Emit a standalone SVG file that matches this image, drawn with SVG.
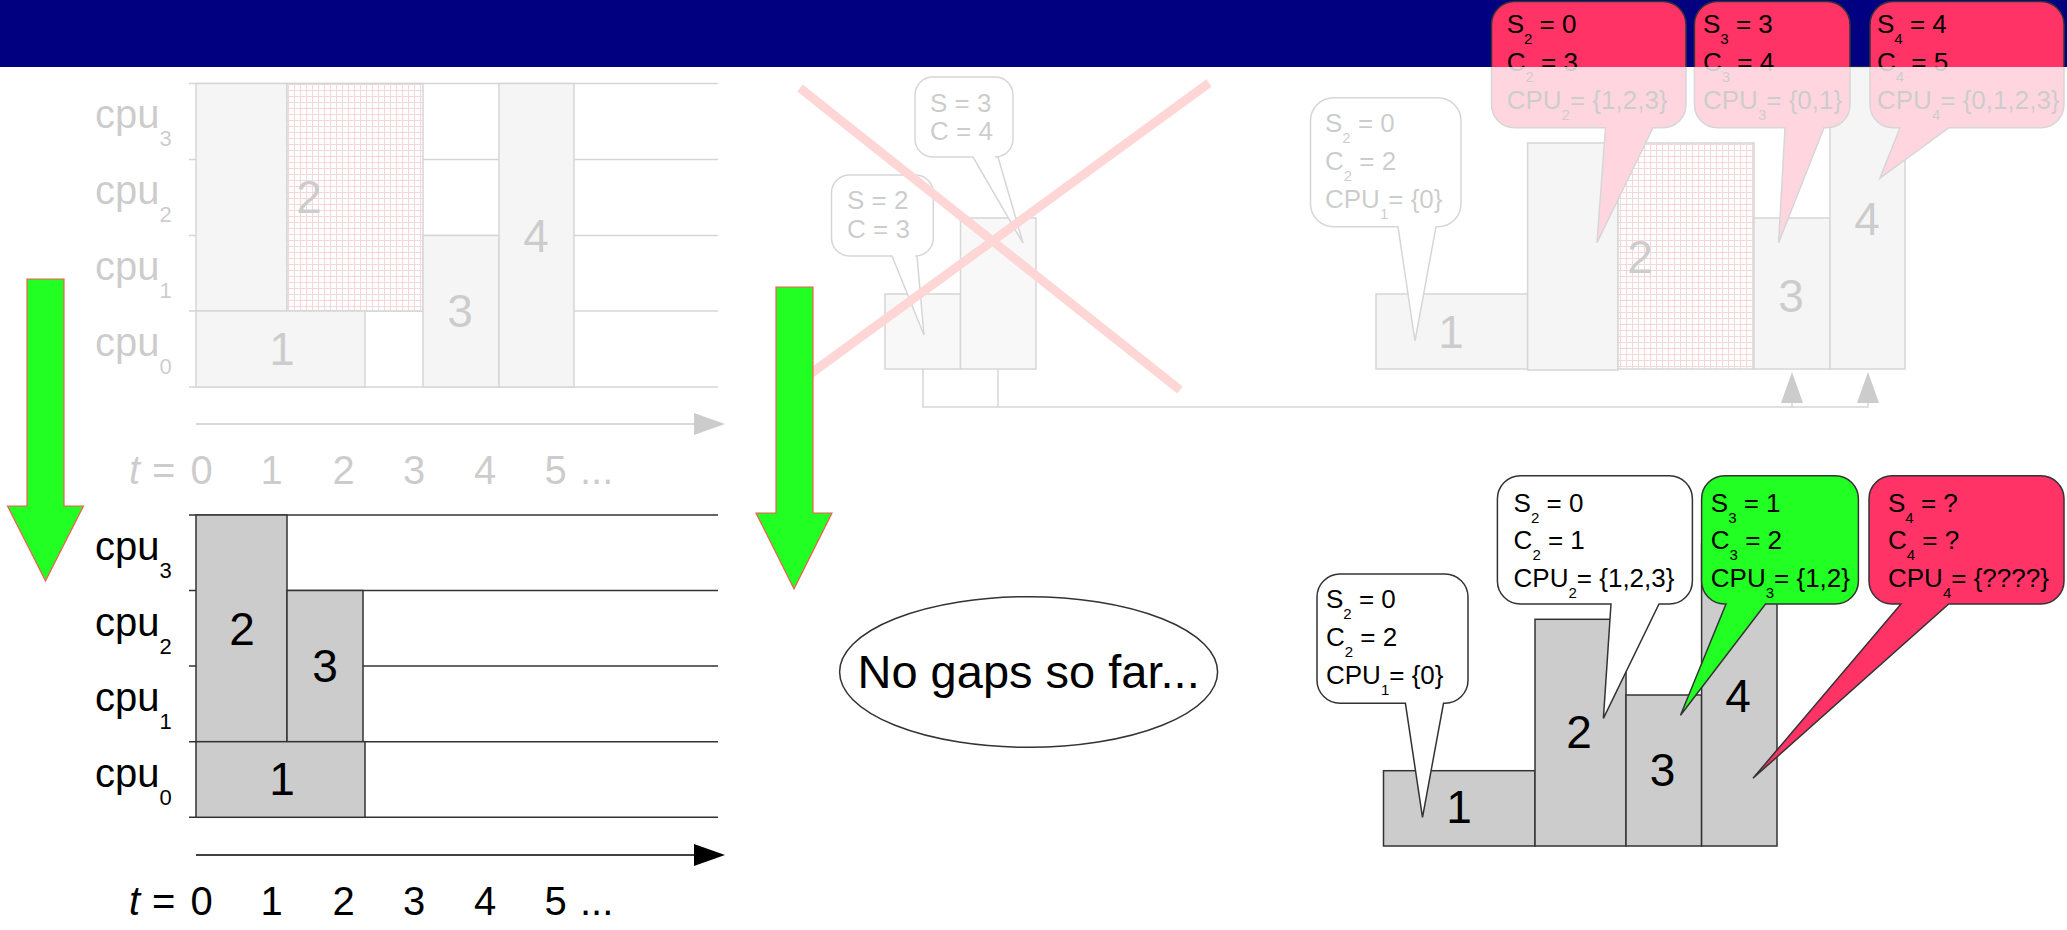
<svg xmlns="http://www.w3.org/2000/svg" width="2067" height="930" viewBox="0 0 2067 930">
<defs>
<style>
text{font-family:"Liberation Sans",Arial,sans-serif;fill:#000}
.cpu{font-size:40px}
.csub{font-size:22px}
.num{font-size:46px;text-anchor:middle}
.bt{font-size:26px}
.sub{font-size:15px}
.tr{font-size:40px}
.grid{stroke:#333;stroke-width:1.5;fill:none}
.bar{fill:#cccccc;stroke:#333;stroke-width:1.5}
.lbar{fill:#dddddd;stroke:#333;stroke-width:1.5}
.bub{fill:#fff;stroke:#333;stroke-width:1.5}
.red{fill:#ff3366;stroke:#333;stroke-width:1.5}
.grn{fill:#22ff22;stroke:#333;stroke-width:1.5}
.garrow{fill:#22ff22;stroke:#ff5555;stroke-width:1.2}
.conn{stroke:#333;stroke-width:1.5;fill:none}
.x{stroke:#ff3333;stroke-width:9;stroke-linecap:butt}
</style>
<pattern id="hatch" width="6" height="6" patternUnits="userSpaceOnUse">
<rect width="6" height="6" fill="#fff"/>
<path d="M0,0.5H6M0.5,0V6" stroke="#cc3344" stroke-width="1"/>
</pattern>
</defs>
<rect width="2067" height="930" fill="#fff"/>
<g id="band"><rect x="0" y="0" width="2067" height="67" fill="#000080"/></g>

<!-- faded upper-left chart -->
<g id="chart-before">
<path class="grid" d="M189,83.5H718M189,159.5H718M189,235.5H718M189,311H718M189,387H718"/>
<rect class="bar" x="196" y="83.5" width="91" height="227.5"/>
<rect x="287" y="83.5" width="136" height="227.5" fill="url(#hatch)" stroke="#333" stroke-width="1.5"/>
<rect class="bar" x="196" y="311" width="169" height="76"/>
<rect class="bar" x="423" y="235.5" width="76" height="151.5"/>
<rect class="bar" x="499" y="83.5" width="75" height="303.5"/>
<text class="num" x="282" y="365">1</text>
<text class="num" x="309" y="213">2</text>
<text class="num" x="460" y="327">3</text>
<text class="num" x="536" y="252">4</text>
<text class="cpu" x="95" y="128">cpu<tspan class="csub" dy="18">3</tspan></text>
<text class="cpu" x="95" y="204">cpu<tspan class="csub" dy="18">2</tspan></text>
<text class="cpu" x="95" y="280">cpu<tspan class="csub" dy="18">1</tspan></text>
<text class="cpu" x="95" y="356">cpu<tspan class="csub" dy="18">0</tspan></text>
<line x1="196" y1="424" x2="695" y2="424" stroke="#000" stroke-width="1.5"/>
<polygon points="694,413 725,424 694,435" fill="#000"/>
<text class="tr" y="484"><tspan x="129" font-style="italic">t</tspan><tspan x="152">=</tspan></text>
<text class="tr" y="484" text-anchor="middle"><tspan x="201.5">0</tspan><tspan x="271.5">1</tspan><tspan x="343.5">2</tspan><tspan x="414">3</tspan><tspan x="485">4</tspan><tspan x="555.5">5</tspan></text>
<text class="tr" x="580" y="484">...</text>
</g>

<!-- faded middle (crossed out) -->
<g id="crossed-out">
<rect class="lbar" x="885" y="294" width="75.5" height="75"/>
<rect class="lbar" x="960.5" y="218" width="75.5" height="151"/>
<path class="bub" d="M933,77H995A18,18 0 0 1 1013,95V139A18,18 0 0 1 995,157H998L1023,243L973,157H933A18,18 0 0 1 915,139V95A18,18 0 0 1 933,77Z"/>
<text class="bt" x="930" y="112">S = 3</text>
<text class="bt" x="930" y="140">C = 4</text>
<path class="bub" d="M849.5,175H915.3A18,18 0 0 1 933.3,193V238A18,18 0 0 1 915.3,256H917L924,335L892,256H849.5A18,18 0 0 1 831.5,238V193A18,18 0 0 1 849.5,175Z"/>
<text class="bt" x="847" y="209">S = 2</text>
<text class="bt" x="847" y="238">C = 3</text>
<line class="x" x1="800" y1="88" x2="1180" y2="390"/>
<line class="x" x1="1209" y1="83" x2="795" y2="385"/>
</g>

<!-- faded upper-right chart -->
<g id="chart-right-before">
<rect class="bar" x="1376" y="294" width="151.6" height="75"/>
<rect class="bar" x="1527.6" y="143" width="90.4" height="227"/>
<rect x="1618" y="143" width="136" height="226" fill="url(#hatch)" stroke="#333" stroke-width="1.5"/>
<rect class="bar" x="1754" y="218" width="76" height="151"/>
<rect class="bar" x="1830" y="67" width="75" height="302"/>
<text class="num" x="1451" y="348">1</text>
<text class="num" x="1640" y="273">2</text>
<text class="num" x="1791" y="312">3</text>
<text class="num" x="1867" y="235">4</text>
</g>
<g id="bubble-faded-1">
<path class="bub" d="M1333.5,97.7H1438A23,23 0 0 1 1461,120.7V203.7A23,23 0 0 1 1438,226.7H1436L1415,341L1398,226.7H1333.5A23,23 0 0 1 1310.5,203.7V120.7A23,23 0 0 1 1333.5,97.7Z"/>
<text class="bt" x="1325" y="131.7">S<tspan class="sub" dy="11">2</tspan><tspan dy="-11"> = 0</tspan></text>
<text class="bt" x="1325" y="170">C<tspan class="sub" dy="11">2</tspan><tspan dy="-11"> = 2</tspan></text>
<text class="bt" x="1325" y="208">CPU<tspan class="sub" dy="11">1</tspan><tspan dy="-11">= {0}</tspan></text>
</g>
<g id="bubble-pink-2">
<path class="red" d="M1514.5,1.5H1663A23,23 0 0 1 1686,24.5V104.7A23,23 0 0 1 1663,127.7H1653L1597,242.7L1605.5,127.7H1514.5A23,23 0 0 1 1491.5,104.7V24.5A23,23 0 0 1 1514.5,1.5Z"/>
<text class="bt" x="1506.7" y="33">S<tspan class="sub" dy="11">2</tspan><tspan dy="-11"> = 0</tspan></text>
<text class="bt" x="1506.7" y="71">C<tspan class="sub" dy="11">2</tspan><tspan dy="-11"> = 3</tspan></text>
<text class="bt" x="1506.7" y="109">CPU<tspan class="sub" dy="11">2</tspan><tspan dy="-11">= {1,2,3}</tspan></text>
</g>
<g id="bubble-pink-3">
<path class="red" d="M1717.4,1.5H1827A23,23 0 0 1 1850,24.5V104.7A23,23 0 0 1 1827,127.7H1824L1778.6,242.7L1785,127.7H1717.4A23,23 0 0 1 1694.4,104.7V24.5A23,23 0 0 1 1717.4,1.5Z"/>
<text class="bt" x="1703" y="33">S<tspan class="sub" dy="11">3</tspan><tspan dy="-11"> = 3</tspan></text>
<text class="bt" x="1703" y="71">C<tspan class="sub" dy="11">3</tspan><tspan dy="-11"> = 4</tspan></text>
<text class="bt" x="1703" y="109">CPU<tspan class="sub" dy="11">3</tspan><tspan dy="-11">= {0,1}</tspan></text>
</g>
<g id="bubble-pink-4">
<path class="red" d="M1893,1.5H2041A23,23 0 0 1 2064,24.5V104.7A23,23 0 0 1 2041,127.7H1949L1880,178L1900,127.7H1893A23,23 0 0 1 1870,104.7V24.5A23,23 0 0 1 1893,1.5Z"/>
<text class="bt" x="1877" y="33">S<tspan class="sub" dy="11">4</tspan><tspan dy="-11"> = 4</tspan></text>
<text class="bt" x="1877" y="71">C<tspan class="sub" dy="11">4</tspan><tspan dy="-11"> = 5</tspan></text>
<text class="bt" x="1877" y="109">CPU<tspan class="sub" dy="11">4</tspan><tspan dy="-11">= {0,1,2,3}</tspan></text>
</g>
<g id="connectors">
<path class="conn" d="M923,369V407H1868V403M998,369V407M1792,407V403"/>
<polygon points="1781,403 1792,372 1803,403" fill="#000"/>
<polygon points="1857,403 1868,372 1879,403" fill="#000"/>
</g>

<!-- fade overlay over the upper part (below the band) -->
<path id="fade" d="M0,67H2067V470H760V500H0Z" fill="#fff" fill-opacity="0.8"/>

<!-- green arrows -->
<g id="arrow-left"><polygon class="garrow" points="27,279 64,279 64,506 83.5,506 45.5,581 7.5,506 27,506"/></g>
<g id="arrow-mid"><polygon class="garrow" points="776,287 813,287 813,513 832,513 794,589 756,513 776,513"/></g>

<!-- lower-left chart -->
<g id="chart-after">
<path class="grid" d="M189,515H718M189,590.5H718M189,666H718M189,741.7H718M189,817.3H718"/>
<rect class="bar" x="196" y="515" width="91" height="226.7"/>
<rect class="bar" x="287" y="590.5" width="76" height="151.2"/>
<rect class="bar" x="196" y="741.7" width="169" height="75.6"/>
<text class="num" x="242" y="645">2</text>
<text class="num" x="325" y="682">3</text>
<text class="num" x="282" y="795">1</text>
<text class="cpu" x="95" y="559.5">cpu<tspan class="csub" dy="18">3</tspan></text>
<text class="cpu" x="95" y="635.5">cpu<tspan class="csub" dy="18">2</tspan></text>
<text class="cpu" x="95" y="711">cpu<tspan class="csub" dy="18">1</tspan></text>
<text class="cpu" x="95" y="787">cpu<tspan class="csub" dy="18">0</tspan></text>
<line x1="196" y1="855" x2="695" y2="855" stroke="#000" stroke-width="1.5"/>
<polygon points="694,844 725,855 694,866" fill="#000"/>
<text class="tr" y="915"><tspan x="129" font-style="italic">t</tspan><tspan x="152">=</tspan></text>
<text class="tr" y="915" text-anchor="middle"><tspan x="201.5">0</tspan><tspan x="271.5">1</tspan><tspan x="343.5">2</tspan><tspan x="414">3</tspan><tspan x="485">4</tspan><tspan x="555.5">5</tspan></text>
<text class="tr" x="580" y="915">...</text>
</g>

<g id="note">
<ellipse cx="1028.6" cy="672" rx="189" ry="75.3" fill="#fff" stroke="#333" stroke-width="1.5"/>
<text x="1028.6" y="688" font-size="47" text-anchor="middle">No gaps so far...</text>
</g>

<!-- lower-right chart -->
<g id="chart-right-after">
<rect class="bar" x="1383.5" y="770.7" width="151.5" height="75.3"/>
<rect class="bar" x="1535" y="619.3" width="91" height="226.7"/>
<rect class="bar" x="1626" y="695" width="75.6" height="151"/>
<rect class="bar" x="1701.6" y="544" width="75.4" height="302"/>
<text class="num" x="1459" y="823">1</text>
<text class="num" x="1579" y="748">2</text>
<text class="num" x="1662.6" y="786">3</text>
<text class="num" x="1738" y="712">4</text>
</g>
<g id="bubble-1">
<path class="bub" d="M1340,574H1445A23,23 0 0 1 1468,597V680.3A23,23 0 0 1 1445,703.3H1443.5L1422.5,817.3L1405.4,703.3H1340A23,23 0 0 1 1317,680.3V597A23,23 0 0 1 1340,574Z"/>
<text class="bt" x="1326" y="608.3">S<tspan class="sub" dy="11">2</tspan><tspan dy="-11"> = 0</tspan></text>
<text class="bt" x="1326" y="646">C<tspan class="sub" dy="11">2</tspan><tspan dy="-11"> = 2</tspan></text>
<text class="bt" x="1326" y="683.5">CPU<tspan class="sub" dy="11">1</tspan><tspan dy="-11">= {0}</tspan></text>
</g>
<g id="bubble-2">
<path class="bub" d="M1520.4,475.7H1669.4A23,23 0 0 1 1692.4,498.7V581A23,23 0 0 1 1669.4,604H1659L1603.4,718.3L1611,604H1520.4A23,23 0 0 1 1497.4,581V498.7A23,23 0 0 1 1520.4,475.7Z"/>
<text class="bt" x="1513.6" y="511.7">S<tspan class="sub" dy="11">2</tspan><tspan dy="-11"> = 0</tspan></text>
<text class="bt" x="1513.6" y="549.3">C<tspan class="sub" dy="11">2</tspan><tspan dy="-11"> = 1</tspan></text>
<text class="bt" x="1513.6" y="586.7">CPU<tspan class="sub" dy="11">2</tspan><tspan dy="-11">= {1,2,3}</tspan></text>
</g>
<g id="bubble-3">
<path class="grn" d="M1724.6,475.7H1835.4A23,23 0 0 1 1858.4,498.7V581A23,23 0 0 1 1835.4,604H1765.5L1680.5,715.3L1726,604H1724.6A23,23 0 0 1 1701.6,581V498.7A23,23 0 0 1 1724.6,475.7Z"/>
<text class="bt" x="1710.8" y="511.7">S<tspan class="sub" dy="11">3</tspan><tspan dy="-11"> = 1</tspan></text>
<text class="bt" x="1710.8" y="549.3">C<tspan class="sub" dy="11">3</tspan><tspan dy="-11"> = 2</tspan></text>
<text class="bt" x="1710.8" y="586.7">CPU<tspan class="sub" dy="11">3</tspan><tspan dy="-11">= {1,2}</tspan></text>
</g>
<g id="bubble-4">
<path class="red" d="M1892,475.7H2041A23,23 0 0 1 2064,498.7V581A23,23 0 0 1 2041,604H1948.7L1753,778.3L1901,604H1892A23,23 0 0 1 1869,581V498.7A23,23 0 0 1 1892,475.7Z"/>
<text class="bt" x="1888" y="511.7">S<tspan class="sub" dy="11">4</tspan><tspan dy="-11"> = ?</tspan></text>
<text class="bt" x="1888" y="549.3">C<tspan class="sub" dy="11">4</tspan><tspan dy="-11"> = ?</tspan></text>
<text class="bt" x="1888" y="586.7">CPU<tspan class="sub" dy="11">4</tspan><tspan dy="-11">= {????}</tspan></text>
</g>
</svg>
